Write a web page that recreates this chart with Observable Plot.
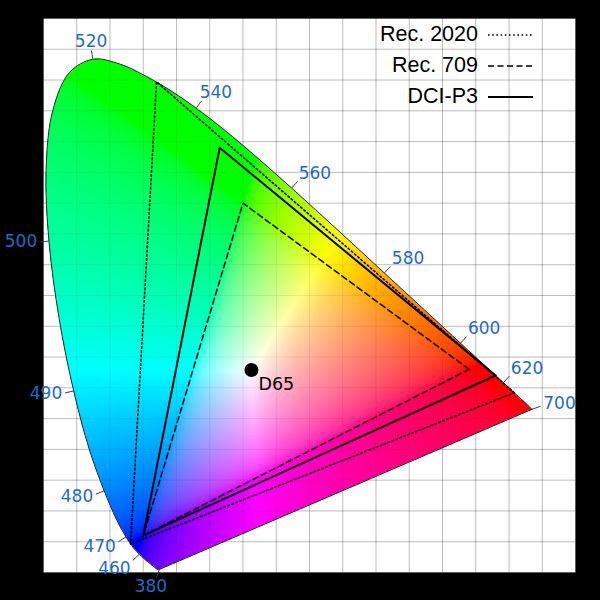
<!DOCTYPE html>
<html>
<head>
<meta charset="utf-8">
<script src="https://cdn.jsdelivr.net/npm/d3@7"></script>
<script src="https://cdn.jsdelivr.net/npm/@observablehq/plot@0.6"></script>
<style>
  html, body { margin: 0; padding: 0; background: #000; }
  #wrap { position: relative; width: 600px; height: 600px; background: #000; }
  #legend { position: absolute; top: 19px; right: 67px; font-family: "Liberation Sans", Arial, sans-serif; font-size: 21.5px; color: #000; }
  #legend .row { display: flex; align-items: center; justify-content: flex-end; height: 31px; }
  #legend svg { margin-left: 10px; }
</style>
</head>
<body>
<div id="wrap"></div>
<script>
// Spectral locus (CIE 1931 2°), 380–700 nm every 5 nm
const wavelengths = [380,385,390,395,400,405,410,415,420,425,430,435,440,445,450,455,460,465,470,475,480,485,490,495,500,505,510,515,520,525,530,535,540,545,550,555,560,565,570,575,580,585,590,595,600,605,610,615,620,625,630,635,640,645,650,655,660,665,670,675,680,685,690,695,700];
const locusX = [0.1741,0.1740,0.1738,0.1736,0.1733,0.1730,0.1726,0.1721,0.1714,0.1703,0.1689,0.1669,0.1644,0.1611,0.1566,0.1510,0.1440,0.1355,0.1241,0.1096,0.0913,0.0687,0.0454,0.0235,0.0082,0.0039,0.0139,0.0389,0.0743,0.1142,0.1547,0.1929,0.2296,0.2658,0.3016,0.3373,0.3731,0.4087,0.4441,0.4788,0.5125,0.5448,0.5752,0.6029,0.6270,0.6482,0.6658,0.6801,0.6915,0.7006,0.7079,0.7140,0.7190,0.7230,0.7260,0.7283,0.7300,0.7311,0.7320,0.7327,0.7334,0.7340,0.7344,0.7346,0.7347];
const locusY = [0.0050,0.0050,0.0049,0.0049,0.0048,0.0048,0.0048,0.0048,0.0051,0.0058,0.0069,0.0086,0.0109,0.0138,0.0177,0.0227,0.0297,0.0399,0.0578,0.0868,0.1327,0.2007,0.2950,0.4127,0.5384,0.6548,0.7502,0.8120,0.8338,0.8262,0.8059,0.7816,0.7543,0.7243,0.6923,0.6589,0.6245,0.5896,0.5547,0.5202,0.4866,0.4544,0.4242,0.3965,0.3725,0.3514,0.3340,0.3197,0.3083,0.2993,0.2920,0.2859,0.2809,0.2770,0.2740,0.2717,0.2700,0.2689,0.2680,0.2673,0.2666,0.2660,0.2656,0.2654,0.2653];
const labelWavelengths = [380,460,470,480,490,500,520,540,560,580,600,620,700];

// Gamut primaries (R, G, B)
const gamutNames = ["Rec. 2020", "Rec. 709", "DCI-P3"];
const rec2020X = [0.708, 0.170, 0.131], rec2020Y = [0.292, 0.797, 0.046];
const rec709X  = [0.640, 0.300, 0.150], rec709Y  = [0.330, 0.600, 0.060];
const p3X      = [0.680, 0.265, 0.150], p3Y      = [0.320, 0.690, 0.060];

// White point
const whiteNames = ["D65"];
const whiteX = [0.3127], whiteY = [0.3290];

// Grid ticks
const xTicks = d3.range(0, 17).map(i => +(i * 0.05).toFixed(2));
const yTicks = d3.range(0, 19).map(i => +(i * 0.05).toFixed(2));

// ---- layout
const W = 600, H = 600, ML = 43, MR = 25, MT = 18, MB = 28;
const XMAX = 0.8, YMAX = 0.9;
const kx = (W - ML - MR) / XMAX, ky = (H - MT - MB) / YMAX;

const locus = wavelengths.map((w, i) => ({w, x: locusX[i], y: locusY[i]}));
const purple = [locus[locus.length - 1], locus[0]];

function triangle(name, xs, ys) {
  const pts = xs.map((x, i) => ({gamut: name, x, y: ys[i]}));
  return [...pts, pts[0]];
}
const tri2020 = triangle(gamutNames[0], rec2020X, rec2020Y);
const tri709 = triangle(gamutNames[1], rec709X, rec709Y);
const triP3 = triangle(gamutNames[2], p3X, p3Y);

// ---- inside test using the same smooth (Catmull-Rom) outline as the drawn curve
const S = 10000;
const outlinePath = new Path2D(
  d3.line().curve(d3.curveCatmullRom)(locus.map(d => [d.x * S, d.y * S])) + "Z"
);
const testCtx = document.createElement("canvas").getContext("2d");
const inside = (x, y) => testCtx.isPointInPath(outlinePath, x * S, y * S);

// ---- chromaticity colour
const gam = v => v <= 0.0031308 ? 12.92 * v : 1.055 * Math.pow(v, 1 / 2.4) - 0.055;
function chroma(x, y) {
  if (y <= 0.001) return "white";
  const X = x / y, Y = 1, Z = (1 - x - y) / y;
  let r = 3.2406 * X - 1.5372 * Y - 0.4986 * Z;
  let g = -0.9689 * X + 1.8758 * Y + 0.0415 * Z;
  let b = 0.0557 * X - 0.2040 * Y + 1.0570 * Z;
  r = Math.max(0, r); g = Math.max(0, g); b = Math.max(0, b);
  const m = Math.max(r, g, b) || 1;
  return `rgb(${Math.round(255 * gam(r / m))},${Math.round(255 * gam(g / m))},${Math.round(255 * gam(b / m))})`;
}
const chromaOpacity = (x, y) => inside(x, y) ? 1 : 0;

// ---- wavelength tick geometry (outward normals in pixel space)
const P = locus.map(d => [d.x * kx, -d.y * ky]);
const C = [whiteX[0] * kx, -whiteY[0] * ky];
function pointAlong(i, dir, dist) {
  let acc = 0, j = i, prev = P[i];
  while (true) {
    const k = j + dir;
    if (k < 0 || k >= P.length) return prev;
    const q = P[k];
    const seg = Math.hypot(q[0] - prev[0], q[1] - prev[1]);
    if (acc + seg >= dist) {
      const t = (dist - acc) / seg;
      return [prev[0] + t * (q[0] - prev[0]), prev[1] + t * (q[1] - prev[1])];
    }
    acc += seg; prev = q; j = k;
  }
}
const norm = v => { const l = Math.hypot(v[0], v[1]) || 1; return [v[0] / l, v[1] / l]; };
function outward(i) {
  const a = pointAlong(i, -1, 15), b = pointAlong(i, 1, 15);
  const t = norm([b[0] - a[0], b[1] - a[1]]);
  let n = [t[1], -t[0]];
  if (n[0] * (P[i][0] - C[0]) + n[1] * (P[i][1] - C[1]) < 0) n = [-n[0], -n[1]];
  if (i === 0 || i === P.length - 1) {
    const near = i === 0 ? b : a;
    const other = i === 0 ? P[P.length - 1] : P[0];
    const u1 = norm([near[0] - P[i][0], near[1] - P[i][1]]);
    const u2 = norm([other[0] - P[i][0], other[1] - P[i][1]]);
    const bis = norm([-(u1[0] + u2[0]), -(u1[1] + u2[1])]);
    n = norm([n[0] + bis[0], n[1] + bis[1]]);
  }
  return n;
}
const soft = v => Math.sign(v) * Math.min(1, Math.max(0, (Math.abs(v) - 0.2) / 0.5));
const TICK = 9, HALFW = 17, HALFH = 6.5;
const labels = labelWavelengths.map(w => {
  const i = wavelengths.indexOf(w);
  const n = outward(i);
  const e = [P[i][0] + TICK * n[0], P[i][1] + TICK * n[1]];
  const c = [e[0] + soft(n[0]) * HALFW + 2 * n[0], e[1] + soft(n[1]) * HALFH + 2 * n[1]];
  return {
    w: String(w),
    x1: locus[i].x, y1: locus[i].y,
    x2: e[0] / kx, y2: -e[1] / ky,
    lx: c[0] / kx, ly: -c[1] / ky
  };
});

const whites = whiteNames.map((name, i) => ({name, x: whiteX[i], y: whiteY[i]}));

const chart = Plot.plot({
  width: W, height: H,
  marginLeft: ML, marginRight: MR, marginTop: MT, marginBottom: MB,
  x: {domain: [0, XMAX], axis: null},
  y: {domain: [0, YMAX], axis: null},
  color: {type: "identity"},
  style: {background: "#000", overflow: "visible"},
  marks: [
    Plot.frame({fill: "white", stroke: null}),
    Plot.gridX(xTicks, {stroke: "#000", strokeOpacity: 0.2, strokeWidth: 1}),
    Plot.gridY(yTicks, {stroke: "#000", strokeOpacity: 0.2, strokeWidth: 1}),
    Plot.raster({fill: chroma, fillOpacity: chromaOpacity, x1: 0, x2: XMAX, y1: 0, y2: YMAX, pixelSize: 1}),
    Plot.gridX(xTicks, {stroke: "#000", strokeOpacity: 0.07, strokeWidth: 1}),
    Plot.gridY(yTicks, {stroke: "#000", strokeOpacity: 0.07, strokeWidth: 1}),
    Plot.line(locus, {x: "x", y: "y", stroke: "#222", strokeWidth: 1, curve: "catmull-rom"}),
    Plot.line(purple, {x: "x", y: "y", stroke: "#222", strokeWidth: 1}),
    Plot.line(tri2020, {x: "x", y: "y", stroke: "#000", strokeWidth: 1.6, strokeDasharray: "1.6,2.6"}),
    Plot.line(tri709, {x: "x", y: "y", stroke: "#000", strokeWidth: 1.5, strokeDasharray: "6,3.5"}),
    Plot.line(triP3, {x: "x", y: "y", stroke: "#000", strokeWidth: 2}),
    Plot.dot(whites, {x: "x", y: "y", r: 7, fill: "#000", stroke: null}),
    Plot.text(whites, {x: "x", y: "y", text: "name", dx: 7, dy: 14, textAnchor: "start", fontSize: 17.5, fontFamily: "DejaVu Sans", fill: "#000"}),
    Plot.link(labels, {x1: "x1", y1: "y1", x2: "x2", y2: "y2", stroke: "#444", strokeWidth: 1}),
    Plot.text(labels, {x: "lx", y: "ly", text: "w", textAnchor: "middle", lineAnchor: "middle", fontSize: 17, fontFamily: "DejaVu Sans", fill: "#1f6cc4"})
  ]
});

const wrap = document.getElementById("wrap");
wrap.appendChild(chart);

// Legend overlay
const dashes = ["1.6,2.6", "6,3.5", null];
const widths = [1.6, 1.5, 2];
const legend = document.createElement("div");
legend.id = "legend";
gamutNames.forEach((name, i) => {
  const row = document.createElement("div");
  row.className = "row";
  const span = document.createElement("span");
  span.textContent = name;
  row.appendChild(span);
  const svgNS = "http://www.w3.org/2000/svg";
  const s = document.createElementNS(svgNS, "svg");
  s.setAttribute("width", "45"); s.setAttribute("height", "10");
  const l = document.createElementNS(svgNS, "line");
  l.setAttribute("x1", "0"); l.setAttribute("x2", "45");
  l.setAttribute("y1", "5"); l.setAttribute("y2", "5");
  l.setAttribute("stroke", "#000");
  l.setAttribute("stroke-width", widths[i]);
  if (dashes[i]) l.setAttribute("stroke-dasharray", dashes[i]);
  s.appendChild(l);
  row.appendChild(s);
  legend.appendChild(row);
});
wrap.appendChild(legend);
</script>
</body>
</html>
